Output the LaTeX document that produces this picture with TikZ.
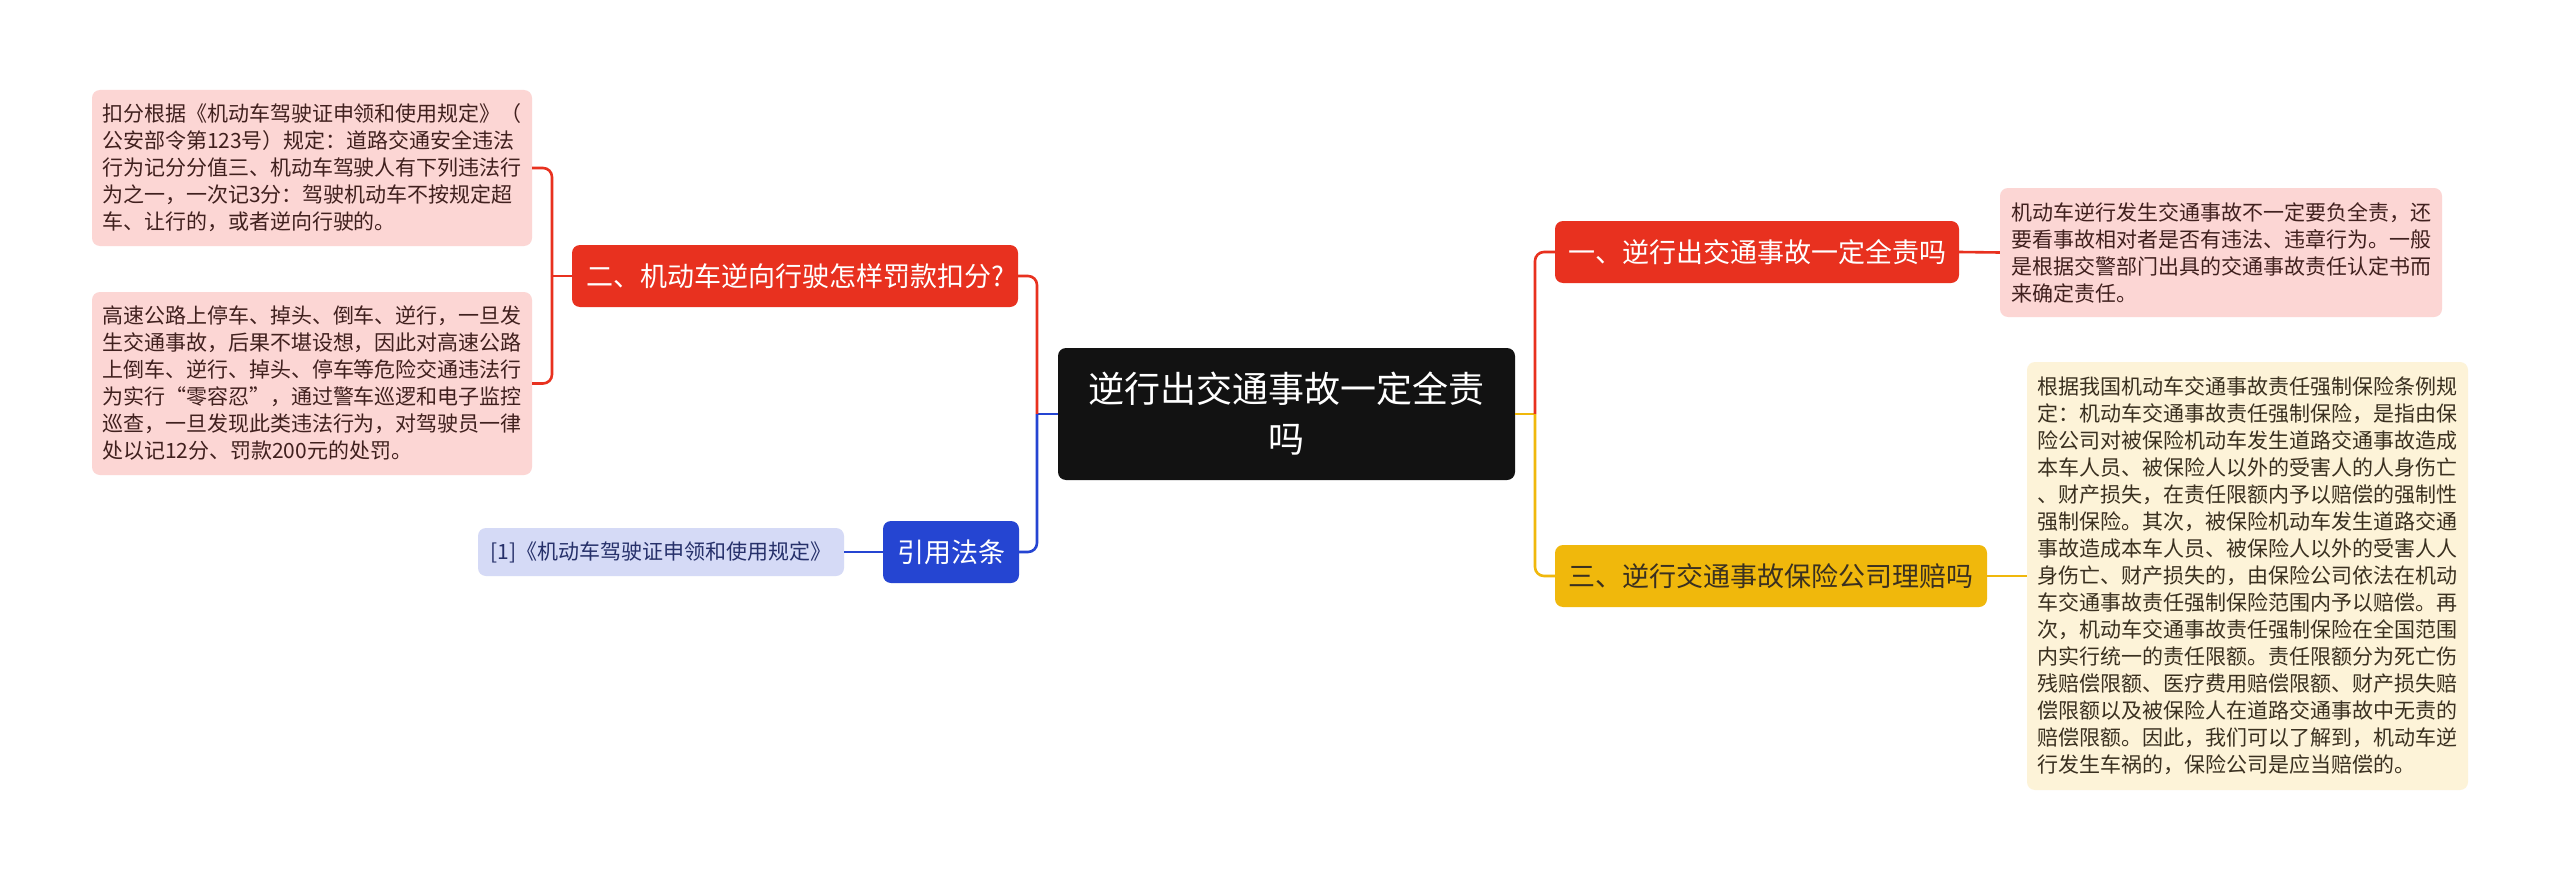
\documentclass[tikz,border=0pt]{standalone}
\usepackage{fontspec}
\setmainfont{Noto Sans CJK SC}
\definecolor{rootfill}{HTML}{121212}
\definecolor{redfill}{HTML}{E8311F}
\definecolor{yellowfill}{HTML}{F0B80C}
\definecolor{bluefill}{HTML}{2545D2}
\definecolor{pinkleaf}{HTML}{FCD6D4}
\definecolor{yellowleaf}{HTML}{FDF3D8}
\definecolor{blueleaf}{HTML}{D5DAF6}
\definecolor{pinktext}{HTML}{40201E}
\definecolor{yellowtext}{HTML}{3A3020}
\definecolor{bluetext}{HTML}{26306A}
\begin{document}
\begin{tikzpicture}[x=1pt, y=-1pt,
  topic/.style={rectangle, rounded corners=8pt, fill=rootfill, text=white,
                minimum width=457pt, minimum height=132pt, align=center,
                font=\fontsize{36}{50}\selectfont},
  branch/.style={rectangle, rounded corners=8pt, minimum height=62pt, inner sep=0pt,
                 font=\fontsize{27}{32}\selectfont, text=white},
  leaf/.style={rectangle, rounded corners=8pt, align=left, inner sep=0pt,
               minimum width=441pt, font=\fontsize{21}{27}\selectfont},
  link/.style={line width=2.6pt, rounded corners=9pt}
]
  \useasboundingbox[fill=white] (0,0) rectangle (2560,880);

  % Centre
  \node[topic] (root) at (1286.5,414) {逆行出交通事故一定全责\\吗};

  % Right side
  \node[branch, fill=redfill, minimum width=404pt] (b1) at (1757,252) {一、逆行出交通事故一定全责吗};
  \node[leaf, fill=pinkleaf, text=pinktext, minimum width=442pt, minimum height=129pt] (l1) at (2221,252.5) {%
    机动车逆行发生交通事故不一定要负全责，还\\
    要看事故相对者是否有违法、违章行为。一般\\
    是根据交警部门出具的交通事故责任认定书而\\
    来确定责任。};

  \node[branch, fill=yellowfill, text=yellowtext, minimum width=432pt] (b3) at (1771,576) {三、逆行交通事故保险公司理赔吗};
  \node[leaf, fill=yellowleaf, text=yellowtext, minimum height=428pt] (l3) at (2247.5,576) {%
    根据我国机动车交通事故责任强制保险条例规\\
    定：机动车交通事故责任强制保险，是指由保\\
    险公司对被保险机动车发生道路交通事故造成\\
    本车人员、被保险人以外的受害人的人身伤亡\\
    、财产损失，在责任限额内予以赔偿的强制性\\
    强制保险。其次，被保险机动车发生道路交通\\
    事故造成本车人员、被保险人以外的受害人人\\
    身伤亡、财产损失的，由保险公司依法在机动\\
    车交通事故责任强制保险范围内予以赔偿。再\\
    次，机动车交通事故责任强制保险在全国范围\\
    内实行统一的责任限额。责任限额分为死亡伤\\
    残赔偿限额、医疗费用赔偿限额、财产损失赔\\
    偿限额以及被保险人在道路交通事故中无责的\\
    赔偿限额。因此，我们可以了解到，机动车逆\\
    行发生车祸的，保险公司是应当赔偿的。};

  % Left side
  \node[branch, fill=redfill, minimum width=446pt] (b2) at (795,276) {二、机动车逆向行驶怎样罚款扣分?};
  \node[leaf, fill=pinkleaf, text=pinktext, minimum width=440pt, minimum height=156pt] (l2a) at (312,168) {%
    扣分根据《机动车驾驶证申领和使用规定》（\\
    公安部令第123号）规定：道路交通安全违法\\
    行为记分分值三、机动车驾驶人有下列违法行\\
    为之一，一次记3分：驾驶机动车不按规定超\\
    车、让行的，或者逆向行驶的。};
  \node[leaf, fill=pinkleaf, text=pinktext, minimum width=440pt, minimum height=183pt] (l2b) at (312,383.5) {%
    高速公路上停车、掉头、倒车、逆行，一旦发\\
    生交通事故，后果不堪设想，因此对高速公路\\
    上倒车、逆行、掉头、停车等危险交通违法行\\
    为实行“零容忍”，通过警车巡逻和电子监控\\
    巡查，一旦发现此类违法行为，对驾驶员一律\\
    处以记12分、罚款200元的处罚。};

  \node[branch, fill=bluefill, minimum width=136pt] (b4) at (951,552) {引用法条};
  \node[leaf, fill=blueleaf, text=bluetext, minimum width=366pt, minimum height=48pt] (l4) at (661,552) {[1]《机动车驾驶证申领和使用规定》};

  % Connectors
  \coordinate (jr) at (1535,414);
  \coordinate (jl) at (1037,414);
  \coordinate (j2) at (552,276);
  \draw[link, yellowfill] (root.east) -- (jr);
  \draw[link, redfill] (jr) |- (b1.west);
  \draw[link, yellowfill] (jr) |- (b3.west);
  \draw[link, redfill] (b1.east) -- (l1.west);
  \draw[link, yellowfill] (b3.east) -- (l3.west);
  \draw[link, bluefill] (root.west) -- (jl);
  \draw[link, redfill] (jl) |- (b2.east);
  \draw[link, bluefill] (jl) |- (b4.east);
  \draw[link, redfill] (b2.west) -- (j2);
  \draw[link, redfill] (j2) |- (l2a.east);
  \draw[link, redfill] (j2) |- (l2b.east);
  \draw[link, bluefill] (b4.west) -- (l4.east);
\end{tikzpicture}
\end{document}
